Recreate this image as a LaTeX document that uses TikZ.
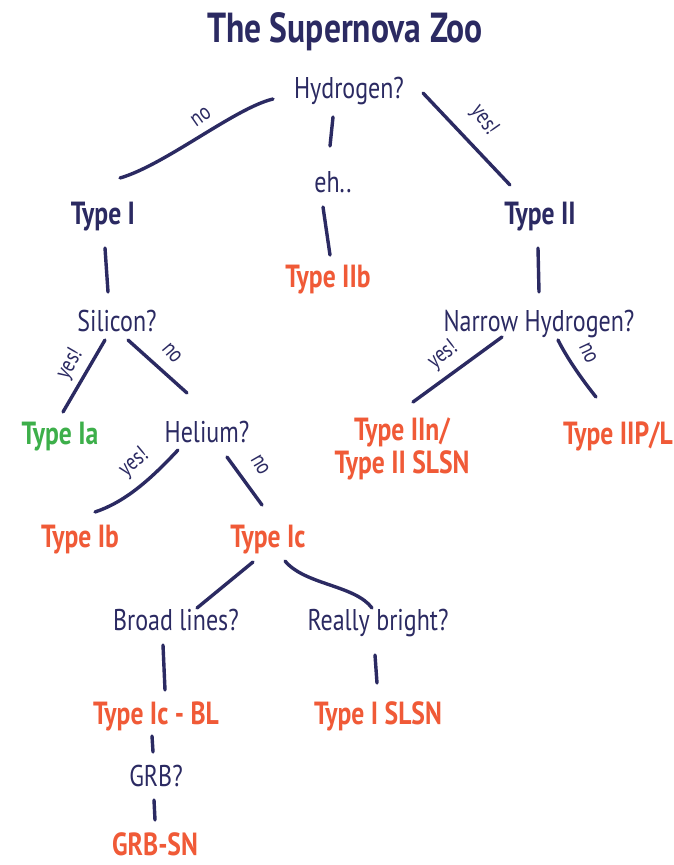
\documentclass[tikz,border=0pt]{standalone}
\usepackage{fontspec}
\setmainfont{PT Sans}[FakeStretch=0.8]
\usetikzlibrary{calc}
\definecolor{navy}{HTML}{2B2A62}
\definecolor{sorange}{HTML}{F05A37}
\definecolor{sgreen}{HTML}{3DAF4A}
\begin{document}
\begin{tikzpicture}[x=1pt,y=-1pt,
  q/.style={text=navy, font=\fontsize{30}{32}\selectfont, inner sep=0pt, anchor=base},
  tp/.style={font=\bfseries\fontsize{32}{33}\selectfont, inner sep=0pt, anchor=base},
  lbl/.style={text=navy, font=\fontsize{23}{24}\selectfont, inner sep=0pt},
  br/.style={draw=navy, line width=3.4pt, line cap=round}]
\useasboundingbox[fill=white] (0,0) rectangle (674,865);
\node[text=navy, font=\bfseries\fontsize{42}{44}\selectfont, inner sep=0pt, anchor=base] (title) at (345,42) {The Supernova Zoo};
\node[q] (hyd) at (349,98) {Hydrogen?};
\node[q] (eh) at (333,192) {eh..};
\node[tp, text=navy] (t1) at (103,224) {Type I};
\node[tp, text=sorange] (t2b) at (328,287) {Type IIb};
\node[tp, text=navy] (t2) at (540,224) {Type II};
\node[q] (sil) at (117,331) {Silicon?};
\node[q] (nh) at (539,331) {Narrow Hydrogen?};
\node[tp, text=sgreen] (ia) at (60,444) {Type Ia};
\node[q] (he) at (207,442) {Helium?};
\node[tp, text=sorange, anchor=north, align=center] (iin) at (402,418) {Type IIn/\\Type II SLSN};
\node[tp, text=sorange, anchor=base east] (tpl) at (673,444) {Type IIP/L};
\node[tp, text=sorange] (ib) at (80,547) {Type Ib};
\node[tp, text=sorange] (ic) at (268,547) {Type Ic};
\node[q] (bl) at (176,630) {Broad lines?};
\node[q] (rb) at (378,630) {Really bright?};
\node[tp, text=sorange] (icbl) at (156,724) {Type Ic - BL};
\node[tp, text=sorange] (isl) at (378,724) {Type I SLSN};
\node[q] (grb) at (156,786) {GRB?};
\node[tp, text=sorange] (gsn) at (155,855) {GRB-SN};
% connectors
\draw[br] ($(hyd.base)+(-76,1)$) .. controls (235,108) and (165,165) .. ($(t1.base)+(17,-46)$);
\draw[br] ($(hyd.base)+(-16,19)$) -- ($(eh.base)+(-3,-46)$);
\draw[br] ($(hyd.base)+(74,-5)$) -- ($(t2.base)+(-30,-39)$);
\draw[br] ($(eh.base)+(-10,15)$) -- ($(t2b.base)+(2,-32)$);
\draw[br] ($(t1.base)+(2,24)$) -- ($(sil.base)+(-9,-39)$);
\draw[br] ($(t2.base)+(-2,24)$) -- ($(nh.base)+(0,-39)$);
\draw[br] ($(sil.base)+(-12,9)$) -- ($(ia.base)+(3,-32)$);
\draw[br] ($(sil.base)+(11,9)$) -- ($(he.base)+(-20,-49)$);
\draw[br] ($(nh.base)+(-37,6)$) -- ($(iin.north)+(11,-16)$);
\draw[br] ($(nh.base)+(19,9)$) .. controls (568,360) and (584,382) .. ($(tpl.base east)+(-77,-47)$);
\draw[br] ($(he.base)+(-29,8)$) .. controls (150,480) and (125,502) .. ($(ib.base)+(15,-35)$);
\draw[br] ($(he.base)+(20,15)$) -- ($(ic.base)+(-6,-42)$);
\draw[br] ($(ic.base)+(-15,15)$) -- ($(bl.base)+(21,-22)$);
\draw[br] ($(ic.base)+(17,14)$) .. controls (305,585) and (355,585) .. ($(rb.base)+(-6,-22)$);
\draw[br] ($(bl.base)+(-13,15)$) -- ($(icbl.base)+(9,-34)$);
\draw[br] ($(rb.base)+(-3,25)$) -- ($(isl.base)+(-1,-41)$);
\draw[br] ($(icbl.base)+(-4,12)$) -- ($(grb.base)+(-3,-34)$);
\draw[br] ($(grb.base)+(-2,14)$) -- ($(gsn.base)+(0,-35)$);
% labels
\node[lbl, rotate=35] (l1) at (201,117) {no};
\node[lbl, rotate=-55] (l2) at (484,120) {yes!};
\node[lbl, rotate=60] (l3) at (70,364) {yes!};
\node[lbl, rotate=-50] (l4) at (172,353) {no};
\node[lbl, rotate=38] (l5) at (443,355) {yes!};
\node[lbl, rotate=-65] (l6) at (588,353) {no};
\node[lbl, rotate=40] (l7) at (134,463) {yes!};
\node[lbl, rotate=-60] (l8) at (260,465) {no};
\end{tikzpicture}
\end{document}
